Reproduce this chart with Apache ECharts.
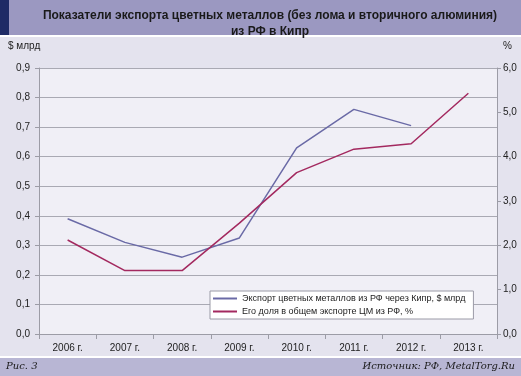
<!DOCTYPE html>
<html>
<head>
<meta charset="utf-8">
<script src="https://cdn.jsdelivr.net/npm/echarts@6/dist/echarts.min.js"></script>
<style>
  html, body { margin: 0; padding: 0; background: #e4e3ee; }
  #chart { width: 521px; height: 376px; }
</style>
</head>
<body>
<div id="chart"></div>
<script>
const years = ["2006 г.", "2007 г.", "2008 г.", "2009 г.", "2010 г.", "2011 г.", "2012 г.", "2013 г."];
const exportBn = [0.39, 0.31, 0.26, 0.325, 0.63, 0.76, 0.705, null];
const sharePct = [2.12, 1.43, 1.43, 2.5, 3.64, 4.17, 4.29, 5.43];

const comma = (v) => v.toFixed(1).replace(".", ",");
const font = "Liberation Sans, Arial, sans-serif";

const chart = echarts.init(document.getElementById("chart"));

const option = {
  backgroundColor: "#e4e3ee",
  animation: false,
  textStyle: { fontFamily: font },
  graphic: [
    { type: "rect", left: 0, top: 0, shape: { width: 521, height: 35 }, style: { fill: "#9b98c1" } },
    { type: "rect", left: 0, top: 0, shape: { width: 9, height: 35 }, style: { fill: "#1f2b66" } },
    { type: "rect", left: 0, top: 35, shape: { width: 521, height: 2 }, style: { fill: "#ffffff" } },
    { type: "rect", left: 0, top: 356, shape: { width: 521, height: 2 }, style: { fill: "#ffffff" } },
    { type: "rect", left: 0, top: 358, shape: { width: 521, height: 18 }, style: { fill: "#b8b6d4" } },
    {
      type: "text", left: 6, top: 361,
      style: { text: "Рис. 3", font: "italic 10px 'DejaVu Serif', 'Liberation Serif', serif", fill: "#1a1a1a" }
    },
    {
      type: "text", right: 6, top: 361,
      style: { text: "Источник: РФ, MetalTorg.Ru", font: "italic 10px 'DejaVu Serif', 'Liberation Serif', serif", fill: "#1a1a1a" }
    },
    {
      type: "text", left: 8, top: 41,
      style: { text: "$ млрд", font: "10px " + font, fill: "#222" }
    },
    {
      type: "text", left: 503, top: 41,
      style: { text: "%", font: "10px " + font, fill: "#222" }
    }
  ],
  title: {
    text: "Показатели экспорта цветных металлов (без лома и вторичного алюминия)\nиз РФ в Кипр",
    left: 265,
    textAlign: "center",
    top: 3,
    textStyle: { fontSize: 12, fontWeight: "bold", color: "#1a1a1a", lineHeight: 16, fontFamily: font }
  },
  legend: {
    orient: "vertical",
    left: 210,
    top: 291,
    backgroundColor: "#ffffff",
    borderColor: "#9a9aa6",
    borderWidth: 1,
    borderRadius: 0,
    padding: [3, 8, 3, 3],
    itemGap: 4,
    itemWidth: 24,
    itemHeight: 2,
    icon: "rect",
    textStyle: { fontSize: 9, color: "#222", fontFamily: font },
    data: [
      "Экспорт цветных металлов из РФ через Кипр, $ млрд",
      "Его доля в общем экспорте ЦМ из РФ, %"
    ]
  },
  grid: {
    left: 39, right: 24, top: 68, bottom: 42,
    show: true, backgroundColor: "#f0eff6", borderWidth: 0
  },
  xAxis: {
    type: "category",
    data: years,
    boundaryGap: true,
    axisLine: { lineStyle: { color: "#9c9ca6" } },
    axisTick: { show: true, length: 5, inside: false, lineStyle: { color: "#9c9ca6" } },
    axisLabel: { fontSize: 10, color: "#222", margin: 9 }
  },
  yAxis: [
    {
      type: "value", min: 0, max: 0.9, interval: 0.1,
      axisLine: { show: true, lineStyle: { color: "#9c9ca6" } },
      axisTick: { show: true, length: 4, lineStyle: { color: "#9c9ca6" } },
      axisLabel: { fontSize: 10, color: "#222", margin: 9, formatter: comma },
      splitLine: { lineStyle: { color: "#a9a9b3", width: 1 } }
    },
    {
      type: "value", min: 0, max: 6, interval: 1,
      axisLine: { show: true, lineStyle: { color: "#9c9ca6" } },
      axisTick: { show: true, length: 4, lineStyle: { color: "#9c9ca6" } },
      axisLabel: { fontSize: 10, color: "#222", margin: 6, formatter: comma },
      splitLine: { show: false }
    }
  ],
  series: [
    {
      name: "Экспорт цветных металлов из РФ через Кипр, $ млрд",
      type: "line",
      yAxisIndex: 0,
      data: exportBn,
      symbol: "none",
      color: "#6a6aa6",
      lineStyle: { width: 1.5, color: "#6a6aa6" }
    },
    {
      name: "Его доля в общем экспорте ЦМ из РФ, %",
      type: "line",
      yAxisIndex: 1,
      data: sharePct,
      symbol: "none",
      color: "#a3295f",
      lineStyle: { width: 1.5, color: "#a3295f" }
    }
  ]
};

chart.setOption(option);
</script>
</body>
</html>
